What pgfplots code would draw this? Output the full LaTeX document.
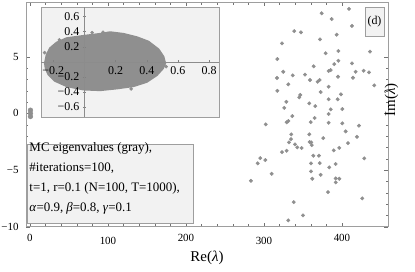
\documentclass[border=0pt]{standalone}
\usepackage{fontspec}
\setmainfont{Liberation Serif}
\usepackage{pgfplots}
\pgfplotsset{compat=1.18}
\definecolor{ptgray}{gray}{0.56}
\definecolor{framegray}{gray}{0.62}
\definecolor{boxfill}{gray}{0.95}
\pgfplotstableread{
x y
374.0 8.83
386.8 8.32
338.8 7.26
347.4 7.15
393.2 6.94
371.8 6.53
323.1 6.18
395.3 5.50
379.1 5.30
317.1 4.79
395.3 4.64
390.1 4.35
363.7 4.15
324.7 3.67
385.5 3.82
382.9 3.73
336.8 3.35
352.6 3.41
316.7 3.12
359.0 2.94
371.4 2.94
368.8 2.79
394.9 3.23
331.2 2.56
382.9 2.35
317.1 1.99
372.7 1.88
346.5 1.62
345.3 1.41
382.9 1.24
394.5 1.24
328.6 1.02
358.1 0.88
365.8 0.64
326.0 0.49
385.5 0.35
382.9 -0.06
409.0 9.21
412.8 7.71
435.9 5.44
412.8 4.41
417.6 3.67
427.8 3.76
434.6 3.62
414.1 3.14
441.4 2.47
398.7 1.68
400.4 0.38
336.3 -0.24
329.1 -0.79
331.2 -0.68
365.0 -0.41
359.9 -0.77
382.9 -0.83
335.0 -1.85
334.6 -2.27
358.1 -1.85
332.1 -2.56
339.7 -2.74
342.7 -3.00
348.3 -3.06
358.6 -2.53
360.6 -2.56
361.2 -2.80
376.0 -2.18
323.1 -3.42
329.1 -3.30
363.2 -3.74
370.5 -3.74
389.4 -3.27
396.5 -3.04
360.3 -4.41
371.4 -4.39
391.9 -4.47
309.9 -5.33
360.3 -5.12
383.7 -4.77
372.7 -5.42
361.9 -5.77
391.9 -5.74
396.5 -5.77
391.9 -6.09
382.1 -6.95
338.1 -7.83
350.0 -9.00
331.2 -9.44
400.4 -0.88
421.8 -1.09
404.7 -1.59
419.2 -2.07
407.7 -2.62
428.6 -3.97
426.0 -7.50
302.2 -0.97
295.3 -3.95
301.7 -4.12
291.9 -4.41
283.3 -5.95
}\outliers
\newcommand{\px}[2]{([shift={(#1bp-26bp,2.5bp-#2bp)}]main.north west)}
\begin{document}
\begin{tikzpicture}
\begin{axis}[name=main, scale only axis, width=362bp, height=224.2bp,
  xmin=-5.1, xmax=459, ymin=-10, ymax=9.78,
  xtick={0,100,200,300,400}, minor x tick num=4,
  xticklabels={0,,200,,400},
  ytick={-10,-5,0,5}, minor y tick num=4,
  yticklabels={−10,−5,0,5},
  tick align=inside,
  major tick length=4bp, minor tick length=2.2bp,
  axis line style={framegray},
  tick style={black!55},
  tick label style={font=\fontsize{11}{13}\selectfont},
  xticklabel style={yshift=-4bp},
  yticklabel style={xshift=-4bp},
  clip mode=individual,
  xlabel={Re(\textit{λ})}, ylabel={Im(\textit{λ})},
  xlabel style={font=\fontsize{15}{17}\selectfont, at={(rel axis cs:0.5,0)}, anchor=center, yshift=-31bp},
  ylabel style={font=\fontsize{15}{17}\selectfont, at={(rel axis cs:1,0.5)}, anchor=center, xshift=15bp, yshift=-3.5bp},
]
\addplot[only marks, mark=*, mark size=1.75bp, color=ptgray, mark options={fill=ptgray, draw=ptgray}] table[x=x, y=y] {\outliers};
\addplot[only marks, mark=*, mark size=2.4bp, color=ptgray, mark options={fill=ptgray, draw=ptgray}] coordinates {(0.6,-0.28) (0.6,0) (0.6,0.28)};
\node[anchor=north, font=\fontsize{11}{13}\selectfont, yshift=-7.3bp] at (axis cs:100,-10) {100};
\node[anchor=north, font=\fontsize{11}{13}\selectfont, yshift=-7.3bp] at (axis cs:300,-10) {300};
\end{axis}
\begin{axis}[name=inset, at={(main.north west)}, xshift=15bp, yshift=-4.5bp, anchor=north west,
  scale only axis, width=178bp, height=110bp,
  xmin=-0.278, xmax=0.863, ymin=-0.732, ymax=0.725,
  axis on top,
  axis lines=middle, axis line style={black!45, -},
  axis background/.style={fill=boxfill, draw=framegray},
  xtick={-0.2,0.2,0.4,0.6,0.8}, ytick={-0.6,-0.4,-0.2,0.2,0.4,0.6},
  xticklabels={−0.2,0.2,0.4,0.6,0.8}, yticklabels={−0.6,−0.4,−0.2,0.2,0.4,0.6},
  minor x tick num=1, minor y tick num=1,
  tick align=center, major tick length=3bp, minor tick length=1.8bp,
  tick style={black!50},
  tick label style={font=\fontsize{12}{14}\selectfont},
]
\addplot[fill=ptgray, draw=ptgray, line width=2.2bp, line join=round] coordinates {
(-0.252,-0.02) (-0.241,0.089) (-0.220,0.177) (-0.177,0.252) (-0.113,0.310)
(-0.006,0.340) (0.101,0.367) (0.165,0.389) (0.25,0.367) (0.336,0.323)
(0.41,0.265) (0.474,0.164) (0.506,0.066) (0.517,-0.021) (0.503,-0.087)
(0.464,-0.176) (0.40,-0.265) (0.314,-0.322) (0.208,-0.352) (0.101,-0.375)
(-0.006,-0.366) (-0.113,-0.322) (-0.188,-0.252) (-0.231,-0.163) (-0.247,-0.087)
(-0.252,-0.02)};
\addplot[only marks, mark=*, mark size=1.6bp, color=ptgray, mark options={fill=ptgray, draw=ptgray}] coordinates {
(0.524,-0.066) (-0.255,0.12) (0.05,0.385) (0.12,0.39) (0.30,-0.36) (-0.16,0.29)};
\end{axis}
\node[draw=framegray, fill=boxfill, anchor=north west, inner sep=0pt, minimum width=166bp, minimum height=79bp] at \px{27}{144} {};
\begin{scope}[every node/.style={anchor=base west, inner sep=0pt, font=\fontsize{13}{15}\selectfont}]
\node at \px{29.3}{151.7} {MC eigenvalues (gray),};
\node at \px{29.3}{171.7} {\#iterations=100,};
\node at \px{29.3}{191.7} {t=1, r=0.1 (N=100, T=1000),};
\node at \px{29.3}{211.7} {\textit{α}=0.9, \textit{β}=0.8, \textit{γ}=0.1};
\end{scope}
\node[draw=framegray, fill=boxfill, inner sep=0pt, minimum width=19bp, minimum height=29bp, font=\fontsize{12}{14}\selectfont] at \px{374.5}{21.5} {(d)};
\pgfresetboundingbox
\path ([shift={(-26bp,2.5bp)}]main.north west) rectangle ++(415bp,-272bp);
\end{tikzpicture}
\end{document}
